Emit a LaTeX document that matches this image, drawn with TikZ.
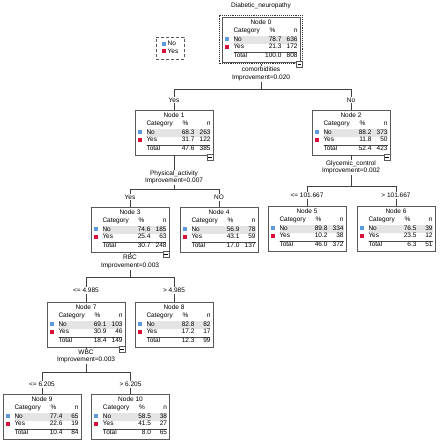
\documentclass[tikz,border=0pt]{standalone}
\usepackage{fontspec}
\setmainfont{Liberation Sans}
\usepackage{array}
\usepackage{colortbl}
\usepackage{hhline}
\usetikzlibrary{positioning, fit}

\definecolor{catno}{RGB}{91,155,222}
\definecolor{catyes}{RGB}{214,18,58}
\definecolor{rowgray}{RGB}{228,228,228}

\setlength{\arrayrulewidth}{0.5pt}
\arrayrulecolor{black!70}

\newcommand{\catsq}[1]{\textcolor{#1}{\rule{4pt}{4pt}}}
\newcommand{\nodetable}[7]{%
  \setlength{\tabcolsep}{0pt}%
  \begin{tabular}{w{l}{9pt}w{l}{30pt}w{r}{18pt}w{r}{16pt}}
    \multicolumn{4}{c}{Node #1}\\
    & Category & \multicolumn{1}{c}{\%} & n\\[1pt]
    \hhline{~---}
    \catsq{catno} & \cellcolor{rowgray}No & \cellcolor{rowgray}#2 & \cellcolor{rowgray}#3\\
    \catsq{catyes} & Yes & #4 & #5\\[1pt]
    \cline{2-4}
    & Total & #6 & #7
  \end{tabular}}

\begin{document}
\begin{tikzpicture}[
    x=1pt, y=-1pt,
    catbox/.style={
        rectangle,
        draw=black!65,
        line width=0.6pt,
        fill=white,
        inner xsep=2.5pt,
        inner ysep=2pt,
        anchor=north,
        font=\fontsize{6.5}{7.6}\selectfont
    },
    selframe/.style={
        draw=black!80,
        densely dotted,
        line width=1.1pt,
        inner sep=1.8pt
    },
    collapse/.style={
        draw=black!65,
        line width=0.5pt,
        fill=white,
        minimum size=6pt,
        inner sep=0pt,
        anchor=north east
    },
    splittext/.style={
        align=center,
        inner sep=1pt,
        font=\fontsize{6.5}{7.5}\selectfont
    },
    branchtext/.style={
        inner sep=1pt,
        font=\fontsize{6.5}{7}\selectfont
    },
    legendbox/.style={
        draw=black!65,
        dash pattern=on 3pt off 2pt,
        line width=0.6pt,
        minimum width=28pt,
        minimum height=22pt,
        inner sep=2pt,
        font=\fontsize{6.5}{7.5}\selectfont
    },
    link/.style={draw=black!75, line width=0.6pt}
]
    \useasboundingbox (0,0) rectangle (440,440);

    % Root + legend
    \node[font=\fontsize{6.5}{7}\selectfont] (title) at (261,6) {Diabetic\_neuropathy};
    \node[catbox] (n0) at (261,17) {\nodetable{0}{78.7}{636}{21.3}{172}{100.0}{808}};
    \node[selframe, fit=(n0)] (n0sel) {};
    \node[collapse, yshift=3pt] (c0) at (n0sel.south east) {\rule{3.5pt}{0.5pt}};
    \node[legendbox] (legend) at (170,48) {\begin{tabular}{@{}l@{\hspace{2pt}}l@{}}\catsq{catno} & No\\ \catsq{catyes} & Yes\end{tabular}};

    % Level 1: comorbidities
    \node[splittext] (s0) at (261,74) {comorbidities\\Improvement=0.020};
    \coordinate (b0) at (261,89);
    \node[branchtext] (l1) at (174,100) {Yes};
    \node[branchtext] (l2) at (351,100) {No};
    \node[catbox] (n1) at (174,110) {\nodetable{1}{68.3}{263}{31.7}{122}{47.6}{385}};
    \node[collapse, yshift=1pt] (c1) at (n1.south east) {\rule{3.5pt}{0.5pt}};
    \node[catbox] (n2) at (351,110) {\nodetable{2}{88.2}{373}{11.8}{50}{52.4}{423}};
    \node[collapse, yshift=1pt] (c2) at (n2.south east) {\rule{3.5pt}{0.5pt}};

    % Level 2: Physical_activity, Glycemic_control
    \node[splittext] (s1) at (174,177.5) {Physical\_activity\\Improvement=0.007};
    \coordinate (b1) at (174,189);
    \node[branchtext] (l3) at (130,197) {Yes};
    \node[branchtext] (l4) at (219,197) {NO};
    \node[catbox] (n3) at (130,207) {\nodetable{3}{74.6}{185}{25.4}{63}{30.7}{248}};
    \node[collapse, yshift=1pt] (c3) at (n3.south east) {\rule{3.5pt}{0.5pt}};
    \node[catbox] (n4) at (219,207) {\nodetable{4}{56.9}{78}{43.1}{59}{17.0}{137}};

    \node[splittext] (s2) at (351,167.5) {Glycemic\_control\\Improvement=0.002};
    \coordinate (b2) at (351,186);
    \node[branchtext] (l5) at (307,195) {<= 101.667};
    \node[branchtext] (l6) at (396,195) {> 101.667};
    \node[catbox] (n5) at (307,206) {\nodetable{5}{89.8}{334}{10.2}{38}{46.0}{372}};
    \node[catbox] (n6) at (396,206) {\nodetable{6}{76.5}{39}{23.5}{12}{6.3}{51}};

    % Level 3: RBC
    \node[splittext] (s3) at (130,262) {RBC\\Improvement=0.003};
    \coordinate (b3) at (130,277);
    \node[branchtext] (l7) at (86,290) {<= 4.985};
    \node[branchtext] (l8) at (174,290) {> 4.985};
    \node[catbox] (n7) at (86,302) {\nodetable{7}{69.1}{103}{30.9}{46}{18.4}{149}};
    \node[collapse, yshift=1pt] (c7) at (n7.south east) {\rule{3.5pt}{0.5pt}};
    \node[catbox] (n8) at (174,302) {\nodetable{8}{82.8}{82}{17.2}{17}{12.3}{99}};

    % Level 4: WBC
    \node[splittext] (s7) at (86,356.5) {WBC\\Improvement=0.003};
    \coordinate (b7) at (86,372);
    \node[branchtext] (l9) at (42,384) {<= 6.205};
    \node[branchtext] (l10) at (130.5,384) {> 6.205};
    \node[catbox] (n9) at (42,394) {\nodetable{9}{77.4}{65}{22.6}{19}{10.4}{84}};
    \node[catbox] (n10) at (130.5,394) {\nodetable{10}{58.5}{38}{41.5}{27}{8.0}{65}};

    % Links
    \draw[link] (n0sel.south) -- (s0.north);
    \draw[link] (s0.south) -- (b0);
    \draw[link] (b0 -| l1) -- (b0 -| l2);
    \draw[link] (b0 -| l1) -- (l1.north);
    \draw[link] (l1.south) -- (n1.north);
    \draw[link] (b0 -| l2) -- (l2.north);
    \draw[link] (l2.south) -- (n2.north);

    \draw[link] (n1.south) -- (s1.north);
    \draw[link] (s1.south) -- (b1);
    \draw[link] (b1 -| l3) -- (b1 -| l4);
    \draw[link] (b1 -| l3) -- (l3.north);
    \draw[link] (l3.south) -- (n3.north);
    \draw[link] (b1 -| l4) -- (l4.north);
    \draw[link] (l4.south) -- (n4.north);

    \draw[link] (n2.south) -- (s2.north);
    \draw[link] (s2.south) -- (b2);
    \draw[link] (b2 -| l5) -- (b2 -| l6);
    \draw[link] (b2 -| l5) -- (l5.north);
    \draw[link] (l5.south) -- (n5.north);
    \draw[link] (b2 -| l6) -- (l6.north);
    \draw[link] (l6.south) -- (n6.north);

    \draw[link] (n3.south) -- (s3.north);
    \draw[link] (s3.south) -- (b3);
    \draw[link] (b3 -| l7) -- (b3 -| l8);
    \draw[link] (b3 -| l7) -- (l7.north);
    \draw[link] (l7.south) -- (n7.north);
    \draw[link] (b3 -| l8) -- (l8.north);
    \draw[link] (l8.south) -- (n8.north);

    \draw[link] (n7.south) -- (s7.north);
    \draw[link] (s7.south) -- (b7);
    \draw[link] (b7 -| l9) -- (b7 -| l10);
    \draw[link] (b7 -| l9) -- (l9.north);
    \draw[link] (l9.south) -- (n9.north);
    \draw[link] (b7 -| l10) -- (l10.north);
    \draw[link] (l10.south) -- (n10.north);
\end{tikzpicture}
\end{document}
